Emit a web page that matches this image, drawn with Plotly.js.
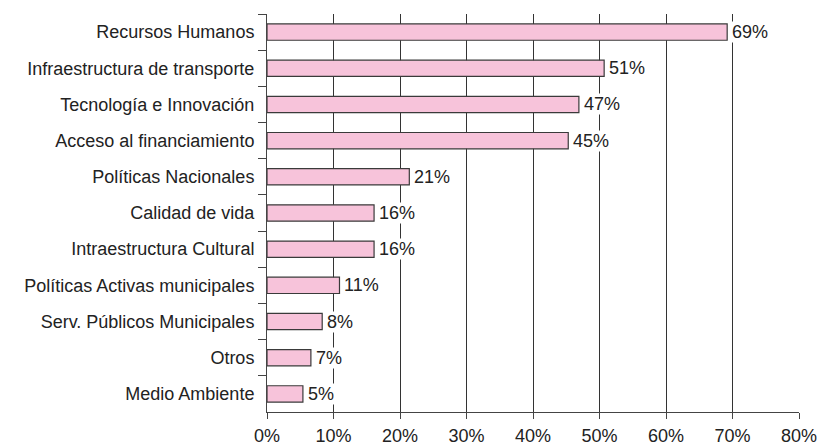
<!DOCTYPE html>
<html>
<head>
<meta charset="utf-8">
<script src="https://cdn.plot.ly/plotly-3.0.1.min.js"></script>
<style>html,body{margin:0;padding:0;background:#fff;}#chart{width:817px;height:446px;}</style>
</head>
<body>
<div id="chart"></div>
<script>
const categories = [
  "Recursos Humanos",
  "Infraestructura de transporte",
  "Tecnología e Innovación",
  "Acceso al financiamiento",
  "Políticas Nacionales",
  "Calidad de vida",
  "Intraestructura Cultural",
  "Políticas Activas municipales",
  "Serv. Públicos Municipales",
  "Otros",
  "Medio Ambiente"
];
const values = [69.2, 50.7, 46.9, 45.3, 21.4, 16.1, 16.1, 10.9, 8.3, 6.6, 5.4];
const valueLabels = ["69%", "51%", "47%", "45%", "21%", "16%", "16%", "11%", "8%", "7%", "5%"];
const xTickVals = [0, 10, 20, 30, 40, 50, 60, 70, 80];
const xTickText = ["0%", "10%", "20%", "30%", "40%", "50%", "60%", "70%", "80%"];

const font = {family: "Liberation Sans, Arial, sans-serif", size: 18, color: "#222"};

const trace = {
  type: "bar",
  orientation: "h",
  x: values,
  y: categories,
  marker: {color: "#f7c3da", line: {color: "#3a3a3a", width: 1.2}},
  width: 0.45,
  hoverinfo: "none"
};

const annotations = categories.map((c, i) => ({
  x: values[i], y: c, xref: "x", yref: "y",
  text: valueLabels[i], showarrow: false,
  xanchor: "left", xshift: 4,
  bgcolor: "#fff", borderpad: 0,
  font: font
}));

const layout = {
  width: 817, height: 446,
  margin: {l: 267, r: 18, t: 14, b: 34},
  paper_bgcolor: "#fff", plot_bgcolor: "#fff",
  showlegend: false,
  font: font,
  xaxis: {
    range: [0, 80],
    tickvals: xTickVals, ticktext: xTickText,
    ticklabeloverflow: "allow",
    showgrid: true, gridcolor: "#333", gridwidth: 1,
    zeroline: false,
    showline: true, linecolor: "#444", linewidth: 1,
    ticks: "outside", ticklen: 6, tickcolor: "#444",
    ticklabelstandoff: 1,
    fixedrange: true
  },
  yaxis: {
    type: "category",
    range: [10.5, -0.5],
    showgrid: false, zeroline: false,
    showline: true, linecolor: "#444", linewidth: 1,
    ticks: "outside", tickson: "boundaries", ticklen: 8, tickcolor: "#444",
    ticklabelstandoff: 8,
    fixedrange: true
  },
  annotations: annotations
};

Plotly.newPlot("chart", [trace], layout, {displayModeBar: false, staticPlot: true});
</script>
</body>
</html>
